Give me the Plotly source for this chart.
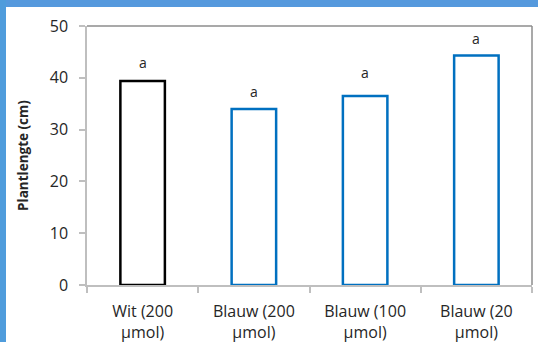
import plotly.graph_objects as go

categories = ["Wit (200<br>µmol)", "Blauw (200<br>µmol)", "Blauw (100<br>µmol)", "Blauw (20<br>µmol)"]
values = [39.4, 34.0, 36.5, 44.3]
letters = ["a", "a", "a", "a"]
label_y = [43.0, 37.3, 41.1, 47.5]
edge_colors = ["#000000", "#0070C0", "#0070C0", "#0070C0"]
y_ticks = [0, 10, 20, 30, 40, 50]

W, H = 538, 342
L, R, T, B = 87, 6, 26, 57
pw, ph = W - L - R, H - T - B

def px(x):
    return (x - L) / pw

def py(y):
    return (H - B - y) / ph

fig = go.Figure()
fig.add_trace(go.Bar(
    x=list(range(len(categories))), y=values, width=0.4,
    marker=dict(color="white", line=dict(color=edge_colors, width=2.5)),
    showlegend=False, hoverinfo="skip",
))
for i, (t, yy) in enumerate(zip(letters, label_y)):
    fig.add_annotation(x=i, y=yy, text=t, showarrow=False,
                       font=dict(family="Open Sans", size=14, color="#262626"))

# blue frame strips
fig.add_shape(type="rect", xref="paper", yref="paper", x0=px(0), x1=px(W), y0=py(7), y1=py(0),
              fillcolor="#5599DD", line=dict(width=0))
fig.add_shape(type="rect", xref="paper", yref="paper", x0=px(0), x1=px(6), y0=py(H), y1=py(0),
              fillcolor="#4F9CDC", line=dict(width=0))
# plot area top/right border
fig.add_shape(type="line", xref="paper", yref="paper", x0=0, x1=1, y0=1, y1=1,
              line=dict(color="#8C8C8C", width=1.5))
fig.add_shape(type="line", xref="paper", yref="paper", x0=1, x1=1, y0=0, y1=1,
              line=dict(color="#8C8C8C", width=1.5))

fig.update_layout(
    width=W, height=H,
    margin=dict(l=L, r=R, t=T, b=B, autoexpand=False),
    paper_bgcolor="white", plot_bgcolor="white",
    font=dict(family="Open Sans", color="#262626"),
)
fig.update_xaxes(
    range=[-0.5, 3.5], tickmode="array", tickvals=list(range(4)), ticktext=categories,
    showline=True, linecolor="#BFBFBF", linewidth=1.5,
    ticks="", showgrid=False, zeroline=False,
    tickfont=dict(size=16, color="#262626"), ticklabelstandoff=11,
)
fig.update_xaxes(minor=dict(tickmode="array", tickvals=[-0.5, 0.5, 1.5, 2.5, 3.5],
                            ticks="outside", ticklen=6, tickcolor="#BFBFBF", tickwidth=1.5, showgrid=False))
fig.update_yaxes(
    range=[0, 50], tickmode="array", tickvals=y_ticks,
    showline=True, linecolor="#BFBFBF", linewidth=1.5,
    ticks="outside", ticklen=6, tickcolor="#BFBFBF", tickwidth=1.5,
    showgrid=False, zeroline=False,
    tickfont=dict(size=16, color="#262626"), ticklabelstandoff=8,
    title=dict(text="<b>Plantlengte (cm)</b>", font=dict(size=13.5, color="#262626"), standoff=18),
)
fig.write_html("out.html", config={"displayModeBar": False},
               post_script="document.body.style.margin='0';document.body.style.overflow='hidden';")
